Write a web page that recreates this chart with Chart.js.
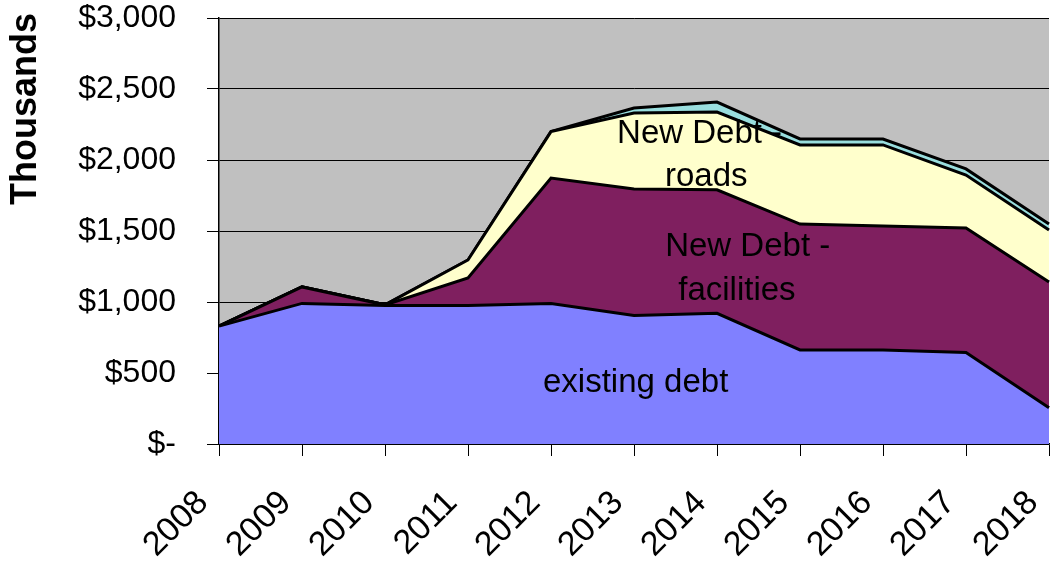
<!DOCTYPE html>
<html>
<head>
<meta charset="utf-8">
<script src="https://cdn.jsdelivr.net/npm/chart.js@4.4.1/dist/chart.umd.min.js"></script>
<style>
  html, body { margin: 0; padding: 0; background: #fff; }
  #wrap { width: 1051px; height: 561px; }
</style>
</head>
<body>
<div id="wrap"><canvas id="c"></canvas></div>
<script>
const years = ["2008","2009","2010","2011","2012","2013","2014","2015","2016","2017","2018"];
const existingDebt = [830, 990, 975, 975, 990, 905, 920, 662, 662, 645, 255];
const facilitiesDebt = [0, 116, 5, 194, 883, 891, 870, 887, 873, 876, 886];
const roadsDebt = [0, 0, 0, 127, 327, 535, 548, 557, 571, 373, 366];
const otherDebt = [0, 0, 0, 0, 0, 35, 70, 42, 42, 43, 42];
const yTicks = [0, 500, 1000, 1500, 2000, 2500, 3000];

// text labels inside the areas: [text, x index, y value]
const areaLabels = [
  ["existing debt", 5.02, 430],
  ["New Debt -", 6.37, 1390],
  ["facilities", 6.24, 1080],
  ["New Debt -", 5.79, 2185],
  ["roads", 5.87, 1880]
];

const FONT = "'Liberation Sans', Arial, sans-serif";

const plotBg = {
  id: "plotBg",
  beforeDraw(chart) {
    const {ctx, chartArea: a} = chart;
    ctx.save();
    ctx.fillStyle = "#C0C0C0";
    ctx.fillRect(a.left, a.top, a.right - a.left, a.bottom - a.top);
    ctx.restore();
  }
};

const textLabels = {
  id: "textLabels",
  afterDraw(chart) {
    const ctx = chart.ctx;
    const xs = chart.scales.x, ys = chart.scales.y;
    ctx.save();
    ctx.fillStyle = "#000";
    ctx.textAlign = "center";
    ctx.textBaseline = "middle";
    ctx.font = "33px " + FONT;
    areaLabels.forEach(l => {
      ctx.fillText(l[0], xs.getPixelForValue(l[1]), ys.getPixelForValue(l[2]));
    });
    // axis title
    ctx.translate(26, 109);
    ctx.rotate(-Math.PI / 2);
    ctx.font = "bold 36px " + FONT;
    ctx.fillText("Thousands", 0, 0);
    ctx.restore();
  }
};

function areaSet(label, data, color, fill) {
  return {
    label: label,
    data: data,
    backgroundColor: color,
    borderColor: "#000",
    borderWidth: 3,
    pointRadius: 0,
    tension: 0,
    fill: fill
  };
}

new Chart(document.getElementById("c"), {
  type: "line",
  data: {
    labels: years,
    datasets: [
      areaSet("existing debt", existingDebt, "#8080FF", "origin"),
      areaSet("New Debt - facilities", facilitiesDebt, "#7F1F5F", "-1"),
      areaSet("New Debt - roads", roadsDebt, "#FFFFCC", "-1"),
      areaSet("New Debt - other", otherDebt, "#99DEDE", "-1")
    ]
  },
  options: {
    responsive: true,
    maintainAspectRatio: false,
    animation: false,
    layout: { padding: { top: 18, right: 2, left: 0, bottom: 0 } },
    plugins: {
      legend: { display: false },
      tooltip: { enabled: false }
    },
    scales: {
      x: {
        stacked: true,
        grid: { drawOnChartArea: false, color: "#000", tickLength: 12 },
        border: { color: "#000", width: 1.5 },
        ticks: {
          color: "#000",
          font: { family: FONT, size: 34 },
          minRotation: 45,
          maxRotation: 45,
          autoSkip: false,
          padding: 27,
          labelOffset: -16
        },
        afterFit(s) { s.height = 117; s.paddingLeft = 0; s.paddingRight = 0; s.paddingTop = 0; s.paddingBottom = 0; }
      },
      y: {
        stacked: true,
        min: 0,
        max: 3000,
        afterBuildTicks(s) { s.ticks = yTicks.map(v => ({ value: v })); },
        grid: { color: "#000", lineWidth: 1, tickLength: 12 },
        border: { color: "#000", width: 1.5 },
        ticks: {
          color: "#000",
          font: { family: FONT, size: 32 },
          padding: 31,
          callback: v => v === 0 ? "$-" : "$" + v.toLocaleString("en-US")
        },
        afterFit(s) { s.width = 219; s.paddingTop = 0; s.paddingBottom = 0; }
      }
    }
  },
  plugins: [plotBg, textLabels]
});
</script>
</body>
</html>
